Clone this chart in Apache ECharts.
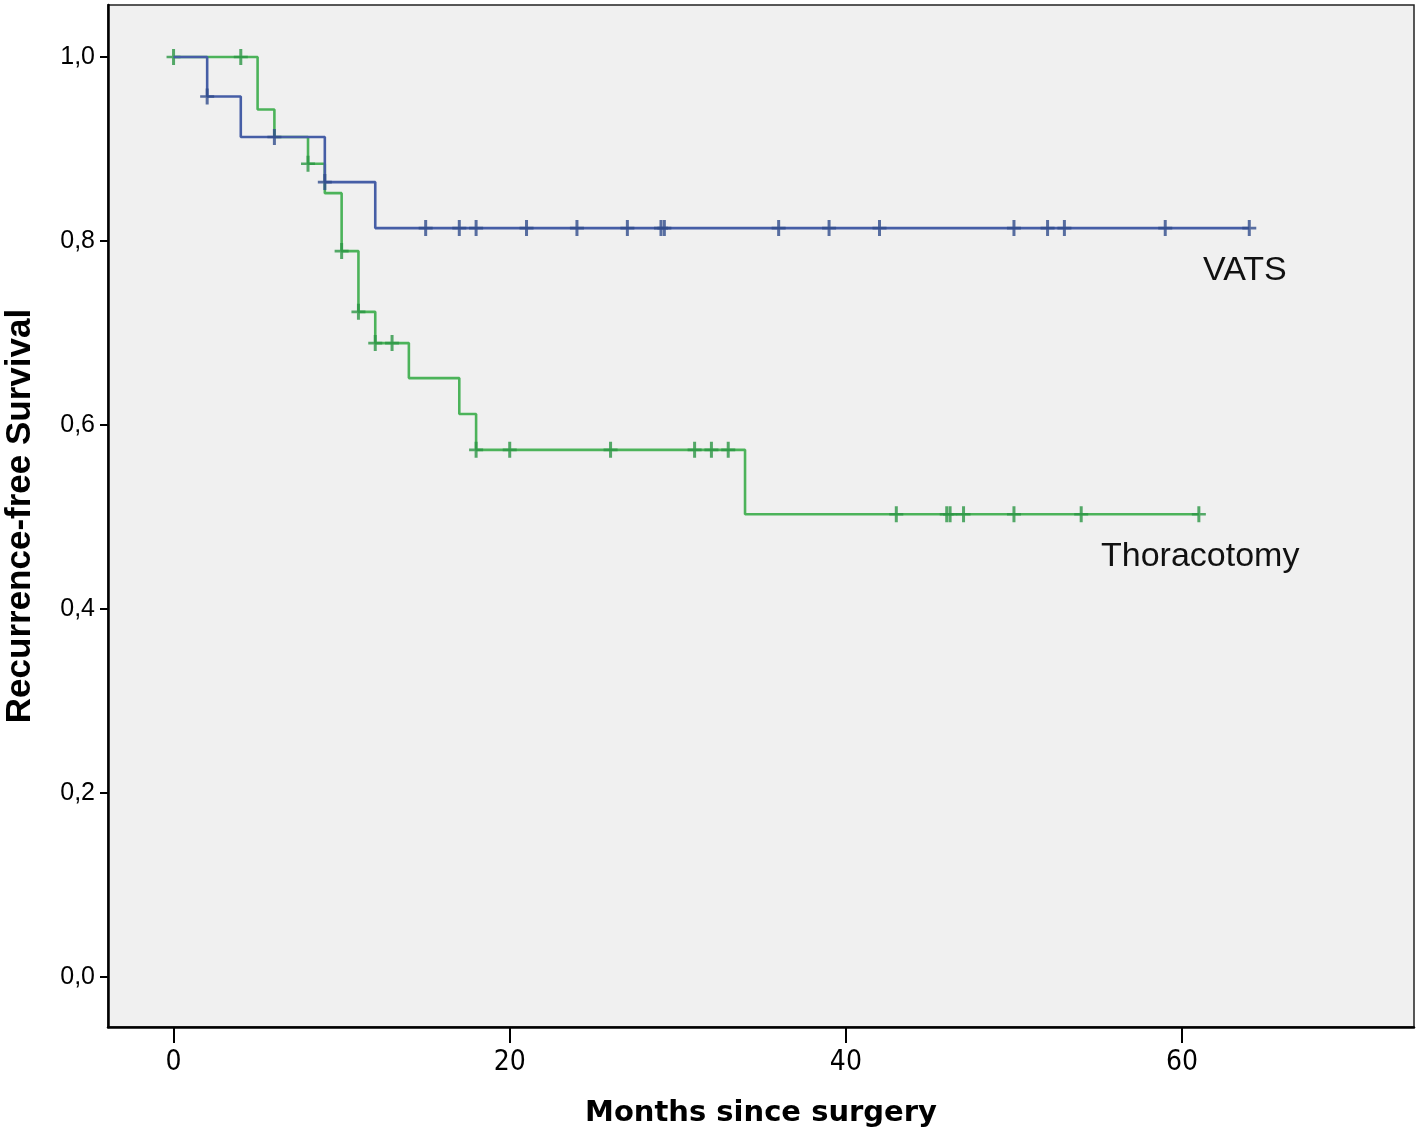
<!DOCTYPE html>
<html>
<head>
<meta charset="utf-8">
<script src="https://cdn.jsdelivr.net/npm/echarts@6/dist/echarts.min.js"></script>
<style>html,body{margin:0;padding:0;background:#fff}#c{width:1418px;height:1139px}</style>
</head>
<body>
<div id="c"></div>
<script>
// Step times (months) and Kaplan-Meier survival
const vatsTimes = [0, 2, 4, 9, 12, 64];
const vatsSurv  = [1.0, 0.957, 0.913, 0.864, 0.814, 0.814];
const thorTimes = [0, 5, 6, 8, 9, 10, 11, 12, 14, 17, 18, 34, 61];
const thorSurv  = [1.0, 0.943, 0.913, 0.884, 0.852, 0.789, 0.723, 0.689, 0.651, 0.612, 0.573, 0.503, 0.503];
// Censoring times
const vatsCensor = [2, 6, 9, 15, 17, 18, 21, 24, 27, 29, 29.2, 36, 39, 42, 50, 52, 53, 59, 64];
const thorCensor = [0, 4, 8, 10, 11, 12, 13, 18, 20, 26, 31, 32, 33, 43, 46, 46.2, 47, 50, 54, 61];
// Axis ticks
const xTicks = [0, 20, 40, 60];
const yTicks = [0, 0.2, 0.4, 0.6, 0.8, 1.0];
const groupNames = ['VATS', 'Thoracotomy'];

function survAt(times, surv, t) {
  let s = surv[0];
  for (let i = 0; i < times.length; i++) { if (times[i] <= t) s = surv[i]; }
  return s;
}
const zip = (a, b) => a.map((v, i) => [v, b[i]]);
const plus = 'path://M-1.5,-8 L1.5,-8 L1.5,-1.3 L7,-1.3 L7,1.3 L1.5,1.3 L1.5,8 L-1.5,8 L-1.5,1.3 L-7,1.3 L-7,-1.3 L-1.5,-1.3 Z';

const chart = echarts.init(document.getElementById('c'), null, {renderer: 'canvas'});
const tickFont = "'Liberation Sans Narrow', 'DejaVu Sans Condensed', sans-serif";
chart.setOption({
  animation: false,
  backgroundColor: '#ffffff',
  grid: {left: 108, top: 5, right: 4, bottom: 112, outerBoundsMode: 'none', containLabel: false,
    show: true, backgroundColor: '#f0f0f0', borderColor: '#222', borderWidth: 1.5},
  xAxis: {
    type: 'value', min: -3.9, max: 73.8,
    name: 'Months since surgery', nameLocation: 'middle', nameGap: 72,
    nameTextStyle: {fontFamily: "'DejaVu Sans', sans-serif", fontWeight: 'bold', fontSize: 29, color: '#000'},
    axisLine: {show: true, onZero: false, lineStyle: {color: '#000', width: 2.5}},
    axisTick: {show: true, customValues: xTicks, length: 16, lineStyle: {color: '#000', width: 2}},
    axisLabel: {customValues: xTicks, margin: 22, fontFamily: tickFont, fontSize: 28, color: '#000'},
    splitLine: {show: false}
  },
  yAxis: {
    type: 'value', min: -0.0543, max: 1.0565,
    name: 'Recurrence-free Survival', nameLocation: 'middle', nameGap: 70,
    nameTextStyle: {fontFamily: "'Liberation Sans', Arial, sans-serif", fontWeight: 'bold', fontSize: 35, color: '#000'},
    axisLine: {show: true, onZero: false, lineStyle: {color: '#000', width: 2.5}},
    axisTick: {show: true, customValues: yTicks, length: 8, lineStyle: {color: '#000', width: 2}},
    axisLabel: {customValues: yTicks, margin: 13, fontFamily: "'Liberation Sans', Arial, sans-serif", fontSize: 25, color: '#000',
      formatter: v => v.toFixed(1).replace('.', ',')},
    splitLine: {show: false}
  },
  series: [
    {name: groupNames[1], type: 'line', step: 'end', data: zip(thorTimes, thorSurv), showSymbol: false, z: 2,
      lineStyle: {color: '#4cb35a', width: 2.6}},
    {name: groupNames[1] + ' censored', type: 'scatter', z: 3,
      data: thorCensor.map(t => [t, survAt(thorTimes, thorSurv, t)]),
      symbol: plus, symbolSize: [14, 16], itemStyle: {color: '#2c9645'}},
    {name: groupNames[0], type: 'line', step: 'end', data: zip(vatsTimes, vatsSurv), showSymbol: false, z: 4,
      lineStyle: {color: '#465ea6', width: 2.6}},
    {name: groupNames[0] + ' censored', type: 'scatter', z: 5,
      data: vatsCensor.map(t => [t, survAt(vatsTimes, vatsSurv, t)]),
      symbol: plus, symbolSize: [14, 16], itemStyle: {color: '#314c8c'}}
  ],
  graphic: [
    {type: 'text', left: 1203, top: 254, style: {text: groupNames[0], fontFamily: "'Liberation Sans', Arial, sans-serif", fontSize: 34, fill: '#111'}},
    {type: 'text', left: 1101, top: 540, style: {text: groupNames[1], fontFamily: "'Liberation Sans', Arial, sans-serif", fontSize: 34, fill: '#111'}}
  ]
});
</script>
</body>
</html>
